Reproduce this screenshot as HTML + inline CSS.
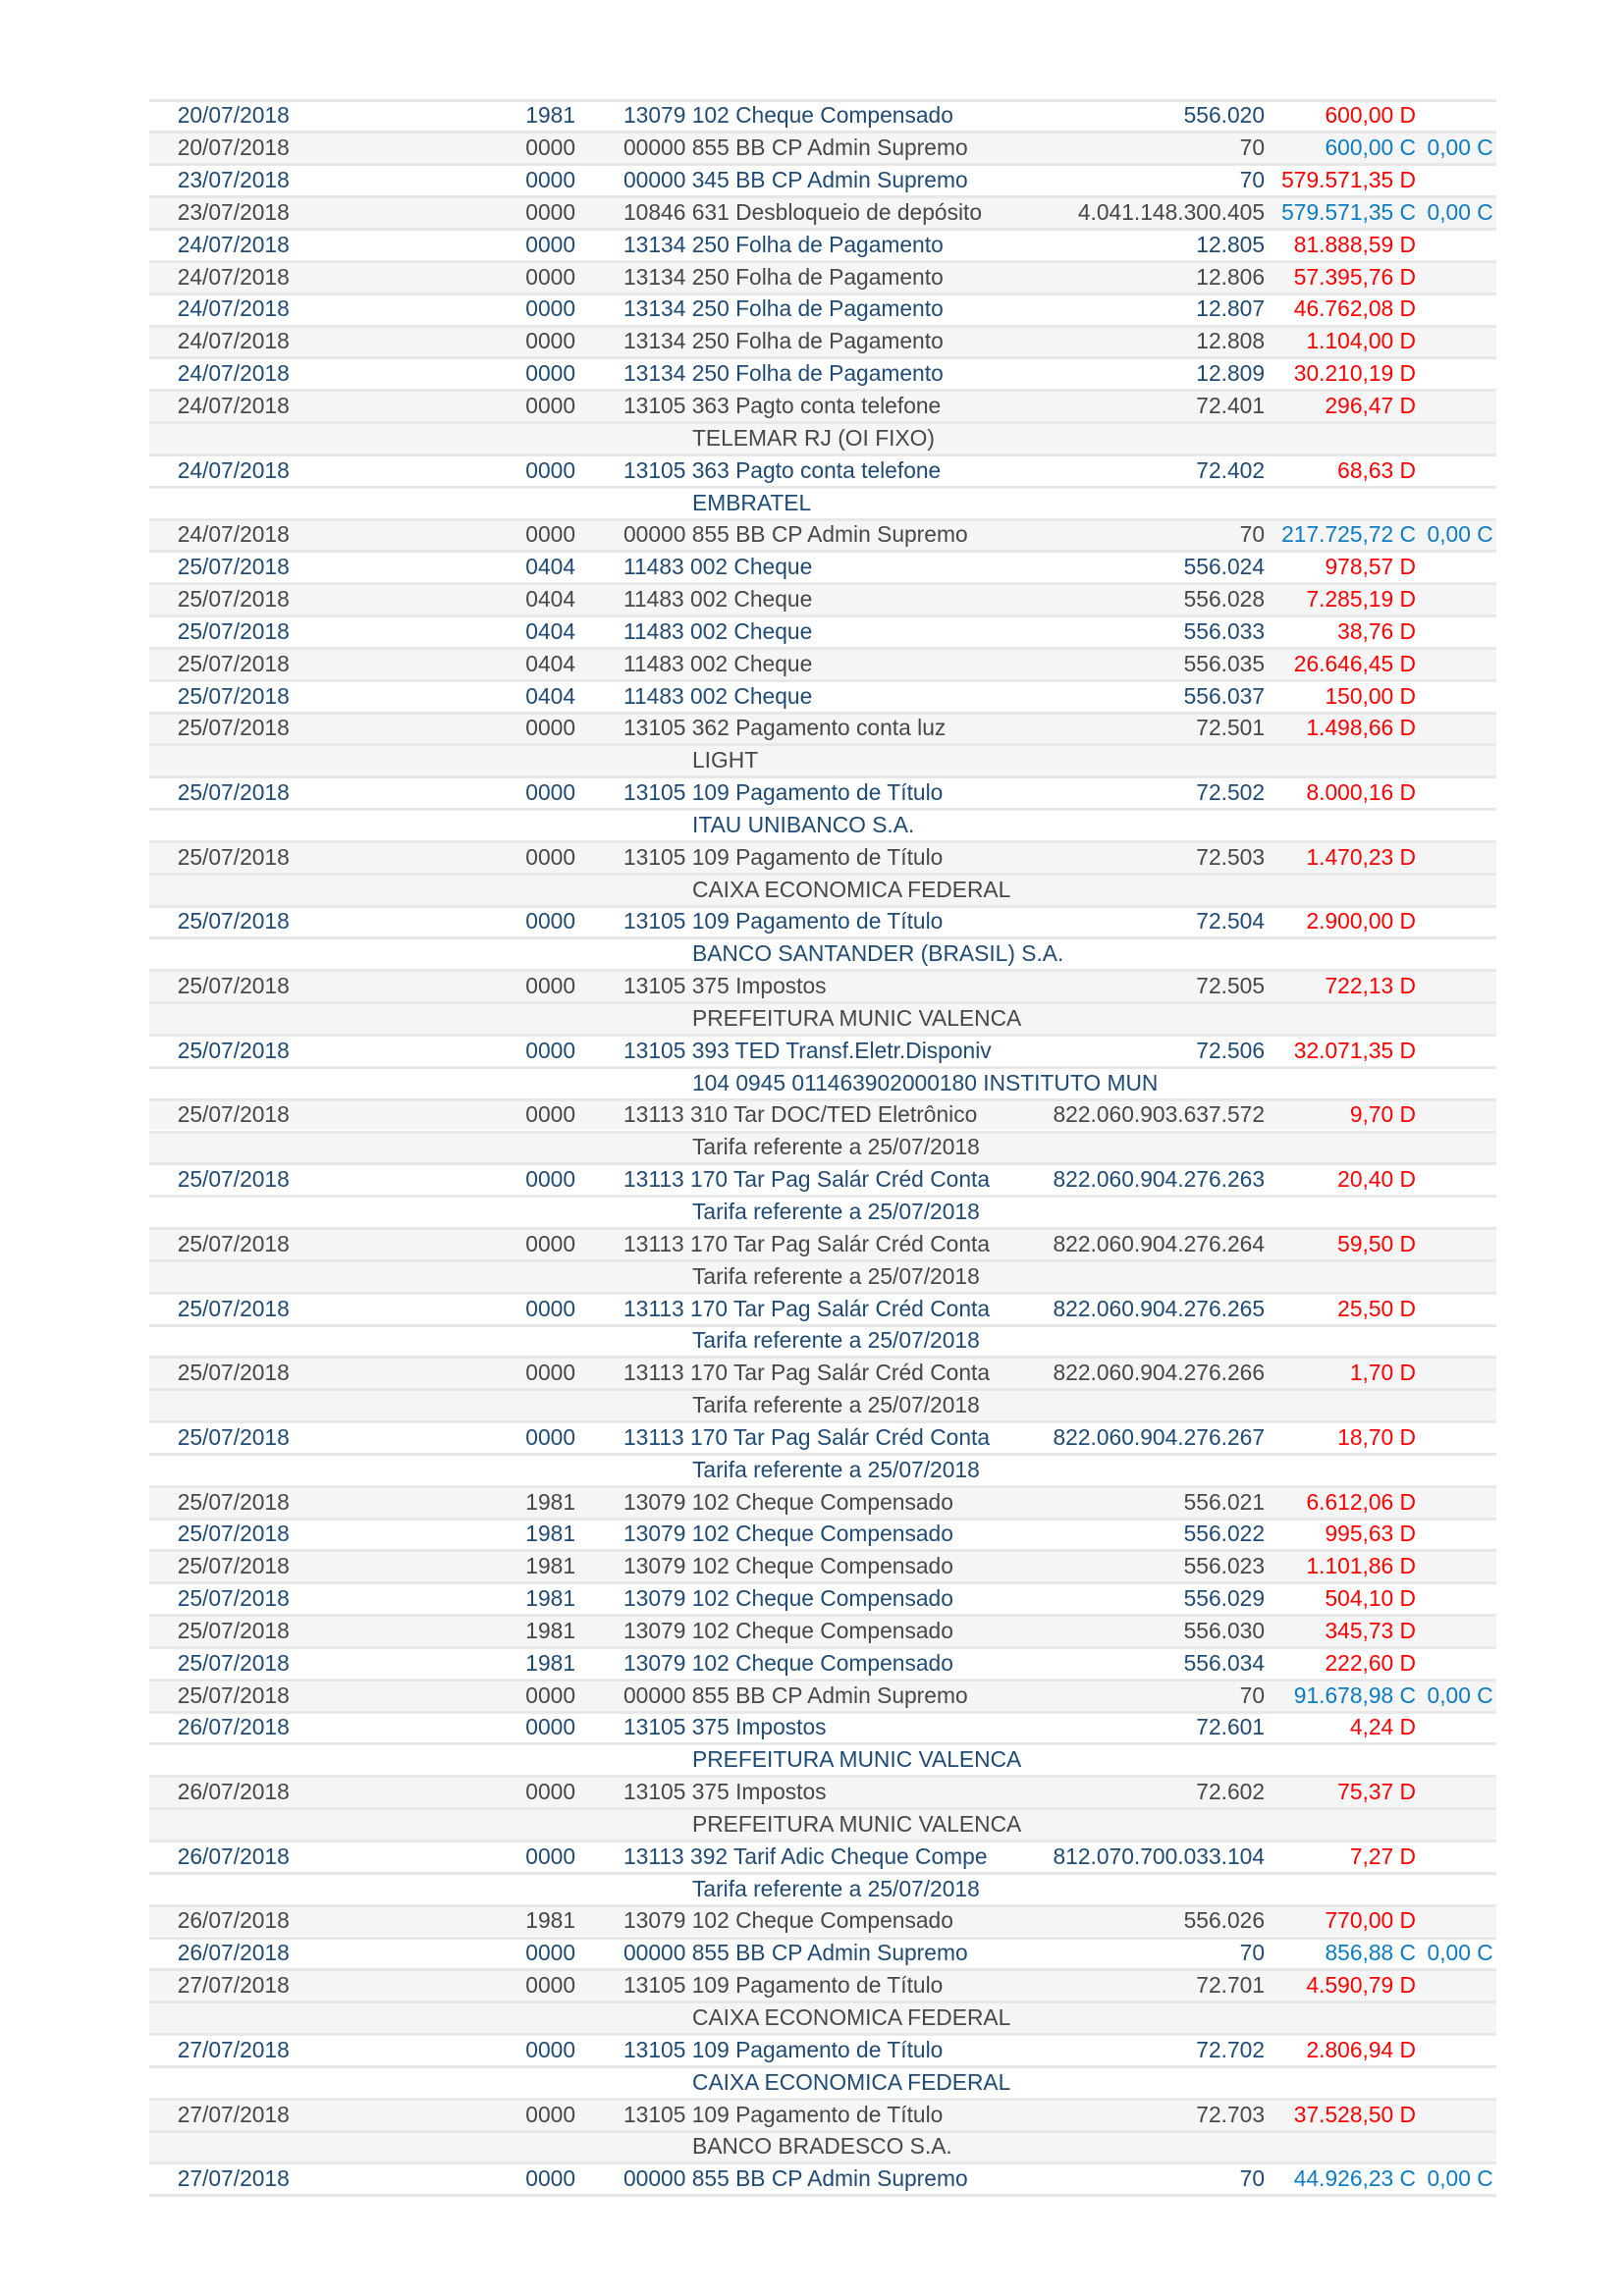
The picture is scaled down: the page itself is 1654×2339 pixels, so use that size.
<!DOCTYPE html>
<html><head><meta charset="utf-8">
<style>
html,body{margin:0;padding:0;background:#fff}
#pg{position:relative;width:1654px;height:2339px;overflow:hidden;background:#fff;font-family:"Liberation Sans",Arial,sans-serif;font-size:22.8px}
.r{position:absolute;left:152px;width:1372px;height:32.9px;background:#fff;color:#1f4a73}
.r::before{content:"";position:absolute;left:0;right:0;top:0;height:3px;background:#e8e8e8}
.r.g{background:#f5f5f5;color:#474747}
.r span{position:absolute;top:0.9px;line-height:33px;white-space:nowrap}
.d{left:28.7px}
.c{right:938px}
.t{left:483px}
.i{left:553px}
.n{right:236px}
.v{right:82px}
.b{right:3.3px;color:#0b7cc2}
.dr{color:#f00}
.cr{color:#0b7cc2}
.end{position:absolute;left:152px;width:1372px;height:3px;background:#e8e8e8}
</style></head><body><div id="pg">
<div class="r" style="top:100.6px"><span class="d">20/07/2018</span><span class="c">1981</span><span class="t">13079 102 Cheque Compensado</span><span class="n">556.020</span><span class="v dr">600,00 D</span></div>
<div class="r g" style="top:133.4px"><span class="d">20/07/2018</span><span class="c">0000</span><span class="t">00000 855 BB CP Admin Supremo</span><span class="n">70</span><span class="v cr">600,00 C</span><span class="b">0,00 C</span></div>
<div class="r" style="top:166.3px"><span class="d">23/07/2018</span><span class="c">0000</span><span class="t">00000 345 BB CP Admin Supremo</span><span class="n">70</span><span class="v dr">579.571,35 D</span></div>
<div class="r g" style="top:199.1px"><span class="d">23/07/2018</span><span class="c">0000</span><span class="t">10846 631 Desbloqueio de depósito</span><span class="n">4.041.148.300.405</span><span class="v cr">579.571,35 C</span><span class="b">0,00 C</span></div>
<div class="r" style="top:232.0px"><span class="d">24/07/2018</span><span class="c">0000</span><span class="t">13134 250 Folha de Pagamento</span><span class="n">12.805</span><span class="v dr">81.888,59 D</span></div>
<div class="r g" style="top:264.8px"><span class="d">24/07/2018</span><span class="c">0000</span><span class="t">13134 250 Folha de Pagamento</span><span class="n">12.806</span><span class="v dr">57.395,76 D</span></div>
<div class="r" style="top:297.6px"><span class="d">24/07/2018</span><span class="c">0000</span><span class="t">13134 250 Folha de Pagamento</span><span class="n">12.807</span><span class="v dr">46.762,08 D</span></div>
<div class="r g" style="top:330.5px"><span class="d">24/07/2018</span><span class="c">0000</span><span class="t">13134 250 Folha de Pagamento</span><span class="n">12.808</span><span class="v dr">1.104,00 D</span></div>
<div class="r" style="top:363.3px"><span class="d">24/07/2018</span><span class="c">0000</span><span class="t">13134 250 Folha de Pagamento</span><span class="n">12.809</span><span class="v dr">30.210,19 D</span></div>
<div class="r g" style="top:396.2px"><span class="d">24/07/2018</span><span class="c">0000</span><span class="t">13105 363 Pagto conta telefone</span><span class="n">72.401</span><span class="v dr">296,47 D</span></div>
<div class="r g" style="top:429.0px"><span class="i">TELEMAR RJ (OI FIXO)</span></div>
<div class="r" style="top:461.8px"><span class="d">24/07/2018</span><span class="c">0000</span><span class="t">13105 363 Pagto conta telefone</span><span class="n">72.402</span><span class="v dr">68,63 D</span></div>
<div class="r" style="top:494.7px"><span class="i">EMBRATEL</span></div>
<div class="r g" style="top:527.5px"><span class="d">24/07/2018</span><span class="c">0000</span><span class="t">00000 855 BB CP Admin Supremo</span><span class="n">70</span><span class="v cr">217.725,72 C</span><span class="b">0,00 C</span></div>
<div class="r" style="top:560.4px"><span class="d">25/07/2018</span><span class="c">0404</span><span class="t">11483 002 Cheque</span><span class="n">556.024</span><span class="v dr">978,57 D</span></div>
<div class="r g" style="top:593.2px"><span class="d">25/07/2018</span><span class="c">0404</span><span class="t">11483 002 Cheque</span><span class="n">556.028</span><span class="v dr">7.285,19 D</span></div>
<div class="r" style="top:626.0px"><span class="d">25/07/2018</span><span class="c">0404</span><span class="t">11483 002 Cheque</span><span class="n">556.033</span><span class="v dr">38,76 D</span></div>
<div class="r g" style="top:658.9px"><span class="d">25/07/2018</span><span class="c">0404</span><span class="t">11483 002 Cheque</span><span class="n">556.035</span><span class="v dr">26.646,45 D</span></div>
<div class="r" style="top:691.7px"><span class="d">25/07/2018</span><span class="c">0404</span><span class="t">11483 002 Cheque</span><span class="n">556.037</span><span class="v dr">150,00 D</span></div>
<div class="r g" style="top:724.6px"><span class="d">25/07/2018</span><span class="c">0000</span><span class="t">13105 362 Pagamento conta luz</span><span class="n">72.501</span><span class="v dr">1.498,66 D</span></div>
<div class="r g" style="top:757.4px"><span class="i">LIGHT</span></div>
<div class="r" style="top:790.2px"><span class="d">25/07/2018</span><span class="c">0000</span><span class="t">13105 109 Pagamento de Título</span><span class="n">72.502</span><span class="v dr">8.000,16 D</span></div>
<div class="r" style="top:823.1px"><span class="i">ITAU UNIBANCO S.A.</span></div>
<div class="r g" style="top:855.9px"><span class="d">25/07/2018</span><span class="c">0000</span><span class="t">13105 109 Pagamento de Título</span><span class="n">72.503</span><span class="v dr">1.470,23 D</span></div>
<div class="r g" style="top:888.8px"><span class="i">CAIXA ECONOMICA FEDERAL</span></div>
<div class="r" style="top:921.6px"><span class="d">25/07/2018</span><span class="c">0000</span><span class="t">13105 109 Pagamento de Título</span><span class="n">72.504</span><span class="v dr">2.900,00 D</span></div>
<div class="r" style="top:954.4px"><span class="i">BANCO SANTANDER (BRASIL) S.A.</span></div>
<div class="r g" style="top:987.3px"><span class="d">25/07/2018</span><span class="c">0000</span><span class="t">13105 375 Impostos</span><span class="n">72.505</span><span class="v dr">722,13 D</span></div>
<div class="r g" style="top:1020.1px"><span class="i">PREFEITURA MUNIC VALENCA</span></div>
<div class="r" style="top:1053.0px"><span class="d">25/07/2018</span><span class="c">0000</span><span class="t">13105 393 TED Transf.Eletr.Disponiv</span><span class="n">72.506</span><span class="v dr">32.071,35 D</span></div>
<div class="r" style="top:1085.8px"><span class="i">104 0945 011463902000180 INSTITUTO MUN</span></div>
<div class="r g" style="top:1118.6px"><span class="d">25/07/2018</span><span class="c">0000</span><span class="t">13113 310 Tar DOC/TED Eletrônico</span><span class="n">822.060.903.637.572</span><span class="v dr">9,70 D</span></div>
<div class="r g" style="top:1151.5px"><span class="i">Tarifa referente a 25/07/2018</span></div>
<div class="r" style="top:1184.3px"><span class="d">25/07/2018</span><span class="c">0000</span><span class="t">13113 170 Tar Pag Salár Créd Conta</span><span class="n">822.060.904.276.263</span><span class="v dr">20,40 D</span></div>
<div class="r" style="top:1217.2px"><span class="i">Tarifa referente a 25/07/2018</span></div>
<div class="r g" style="top:1250.0px"><span class="d">25/07/2018</span><span class="c">0000</span><span class="t">13113 170 Tar Pag Salár Créd Conta</span><span class="n">822.060.904.276.264</span><span class="v dr">59,50 D</span></div>
<div class="r g" style="top:1282.8px"><span class="i">Tarifa referente a 25/07/2018</span></div>
<div class="r" style="top:1315.7px"><span class="d">25/07/2018</span><span class="c">0000</span><span class="t">13113 170 Tar Pag Salár Créd Conta</span><span class="n">822.060.904.276.265</span><span class="v dr">25,50 D</span></div>
<div class="r" style="top:1348.5px"><span class="i">Tarifa referente a 25/07/2018</span></div>
<div class="r g" style="top:1381.4px"><span class="d">25/07/2018</span><span class="c">0000</span><span class="t">13113 170 Tar Pag Salár Créd Conta</span><span class="n">822.060.904.276.266</span><span class="v dr">1,70 D</span></div>
<div class="r g" style="top:1414.2px"><span class="i">Tarifa referente a 25/07/2018</span></div>
<div class="r" style="top:1447.0px"><span class="d">25/07/2018</span><span class="c">0000</span><span class="t">13113 170 Tar Pag Salár Créd Conta</span><span class="n">822.060.904.276.267</span><span class="v dr">18,70 D</span></div>
<div class="r" style="top:1479.9px"><span class="i">Tarifa referente a 25/07/2018</span></div>
<div class="r g" style="top:1512.7px"><span class="d">25/07/2018</span><span class="c">1981</span><span class="t">13079 102 Cheque Compensado</span><span class="n">556.021</span><span class="v dr">6.612,06 D</span></div>
<div class="r" style="top:1545.6px"><span class="d">25/07/2018</span><span class="c">1981</span><span class="t">13079 102 Cheque Compensado</span><span class="n">556.022</span><span class="v dr">995,63 D</span></div>
<div class="r g" style="top:1578.4px"><span class="d">25/07/2018</span><span class="c">1981</span><span class="t">13079 102 Cheque Compensado</span><span class="n">556.023</span><span class="v dr">1.101,86 D</span></div>
<div class="r" style="top:1611.2px"><span class="d">25/07/2018</span><span class="c">1981</span><span class="t">13079 102 Cheque Compensado</span><span class="n">556.029</span><span class="v dr">504,10 D</span></div>
<div class="r g" style="top:1644.1px"><span class="d">25/07/2018</span><span class="c">1981</span><span class="t">13079 102 Cheque Compensado</span><span class="n">556.030</span><span class="v dr">345,73 D</span></div>
<div class="r" style="top:1676.9px"><span class="d">25/07/2018</span><span class="c">1981</span><span class="t">13079 102 Cheque Compensado</span><span class="n">556.034</span><span class="v dr">222,60 D</span></div>
<div class="r g" style="top:1709.8px"><span class="d">25/07/2018</span><span class="c">0000</span><span class="t">00000 855 BB CP Admin Supremo</span><span class="n">70</span><span class="v cr">91.678,98 C</span><span class="b">0,00 C</span></div>
<div class="r" style="top:1742.6px"><span class="d">26/07/2018</span><span class="c">0000</span><span class="t">13105 375 Impostos</span><span class="n">72.601</span><span class="v dr">4,24 D</span></div>
<div class="r" style="top:1775.4px"><span class="i">PREFEITURA MUNIC VALENCA</span></div>
<div class="r g" style="top:1808.3px"><span class="d">26/07/2018</span><span class="c">0000</span><span class="t">13105 375 Impostos</span><span class="n">72.602</span><span class="v dr">75,37 D</span></div>
<div class="r g" style="top:1841.1px"><span class="i">PREFEITURA MUNIC VALENCA</span></div>
<div class="r" style="top:1874.0px"><span class="d">26/07/2018</span><span class="c">0000</span><span class="t">13113 392 Tarif Adic Cheque Compe</span><span class="n">812.070.700.033.104</span><span class="v dr">7,27 D</span></div>
<div class="r" style="top:1906.8px"><span class="i">Tarifa referente a 25/07/2018</span></div>
<div class="r g" style="top:1939.6px"><span class="d">26/07/2018</span><span class="c">1981</span><span class="t">13079 102 Cheque Compensado</span><span class="n">556.026</span><span class="v dr">770,00 D</span></div>
<div class="r" style="top:1972.5px"><span class="d">26/07/2018</span><span class="c">0000</span><span class="t">00000 855 BB CP Admin Supremo</span><span class="n">70</span><span class="v cr">856,88 C</span><span class="b">0,00 C</span></div>
<div class="r g" style="top:2005.3px"><span class="d">27/07/2018</span><span class="c">0000</span><span class="t">13105 109 Pagamento de Título</span><span class="n">72.701</span><span class="v dr">4.590,79 D</span></div>
<div class="r g" style="top:2038.2px"><span class="i">CAIXA ECONOMICA FEDERAL</span></div>
<div class="r" style="top:2071.0px"><span class="d">27/07/2018</span><span class="c">0000</span><span class="t">13105 109 Pagamento de Título</span><span class="n">72.702</span><span class="v dr">2.806,94 D</span></div>
<div class="r" style="top:2103.8px"><span class="i">CAIXA ECONOMICA FEDERAL</span></div>
<div class="r g" style="top:2136.7px"><span class="d">27/07/2018</span><span class="c">0000</span><span class="t">13105 109 Pagamento de Título</span><span class="n">72.703</span><span class="v dr">37.528,50 D</span></div>
<div class="r g" style="top:2169.5px"><span class="i">BANCO BRADESCO S.A.</span></div>
<div class="r" style="top:2202.4px"><span class="d">27/07/2018</span><span class="c">0000</span><span class="t">00000 855 BB CP Admin Supremo</span><span class="n">70</span><span class="v cr">44.926,23 C</span><span class="b">0,00 C</span></div>
<div class="end" style="top:2235.2px"></div>
</div></body></html>
